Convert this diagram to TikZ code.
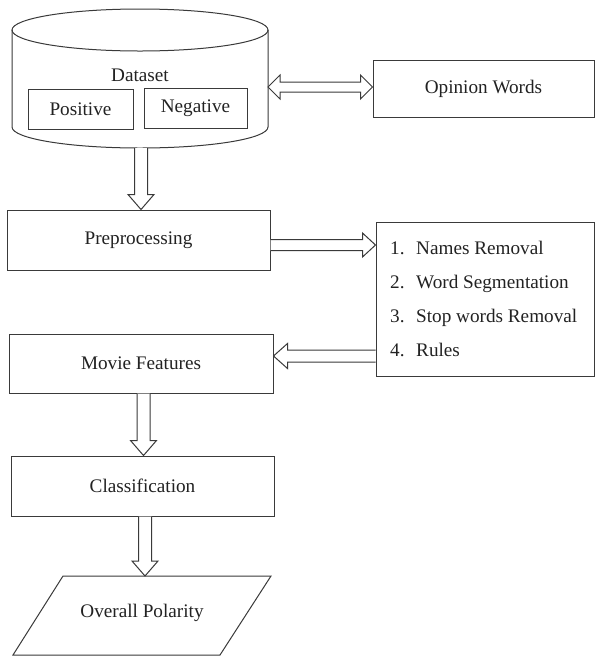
\documentclass[tikz,border=0pt]{standalone}
\usepackage{fontspec}
\setmainfont{Liberation Serif}
\newfontfamily\tnrfont{Liberation Serif}
\usetikzlibrary{calc}
\definecolor{lncol}{HTML}{3A3A3A}
\definecolor{txcol}{HTML}{222222}
\tikzset{
  ln/.style={draw=lncol, line width=1pt},
  box/.style={ln, rectangle, inner sep=0pt, text=txcol, align=center},
  blk/.style={ln, fill=white, line join=miter},
  lbl/.style={text=txcol, inner sep=0pt}
}
\newcommand\arrowDown[2]{%
  \draw[blk] ($(#1)+(-6.5,0)$) -- ($(#2)+(-6.5,-15)$) -- ($(#2)+(-13,-15)$) -- (#2)
    -- ($(#2)+(13,-15)$) -- ($(#2)+(6.5,-15)$) -- ($(#1)+(6.5,0)$);}
\newcommand\arrowRight[2]{%
  \draw[blk] ($(#1)+(0,-5.5)$) -- ($(#2)+(-13,-5.5)$) -- ($(#2)+(-13,-12)$) -- (#2)
    -- ($(#2)+(-13,12)$) -- ($(#2)+(-13,5.5)$) -- ($(#1)+(0,5.5)$);}
\newcommand\arrowLeft[2]{%
  \draw[blk] ($(#1)+(0,-6)$) -- ($(#2)+(14,-6)$) -- ($(#2)+(14,-12.5)$) -- (#2)
    -- ($(#2)+(14,12.5)$) -- ($(#2)+(14,6)$) -- ($(#1)+(0,6)$);}
\newcommand\arrowBoth[2]{%
  \draw[blk] ($(#1)+(12,-5)$) -- ($(#2)+(-12,-5)$) -- ($(#2)+(-12,-12)$) -- (#2)
    -- ($(#2)+(-12,12)$) -- ($(#2)+(-12,5)$) -- ($(#1)+(12,5)$) -- ($(#1)+(12,12)$)
    -- (#1) -- ($(#1)+(12,-12)$) -- cycle;}
\begin{document}
\begin{tikzpicture}[x=1pt, y=-1pt, font=\tnrfont\fontsize{19.2}{23}\selectfont]
\useasboundingbox (0,0) rectangle (595,657);
\fill[white] (0,0) rectangle (595,657);

% Dataset cylinder
\draw[ln, fill=white] (12,30) -- (12,127) arc[start angle=180, end angle=0, x radius=128, y radius=21] -- (268,30);
\draw[ln] (140,30) ellipse [x radius=128, y radius=21];
\node[lbl, anchor=base] (dsl) at (140,81) {Dataset};
\node[box, minimum width=105pt, minimum height=40pt] (pos) at (80.5,109) {Positive};
\node[box, minimum width=103pt, minimum height=40pt] (neg) at (195.5,108) {Negative};
\coordinate (dsS) at (141,148);
\coordinate (dsE) at (268,87);

% Opinion words
\node[box, minimum width=221pt, minimum height=57pt] (op) at (483.5,88.5) {Opinion Words};

% Preprocessing
\node[box, minimum width=263pt, minimum height=60pt] (pre) at (138.5,240) {Preprocessing};

% List box
\node[box, minimum width=218pt, minimum height=154pt] (lst) at (485,299) {};
\node[lbl, anchor=base west] (n1) at (390,254) {1.};
\node[lbl, anchor=base west] (t1) at (416,254) {Names Removal};
\node[lbl, anchor=base west] (n2) at (390,288) {2.};
\node[lbl, anchor=base west] (t2) at (416,288) {Word Segmentation};
\node[lbl, anchor=base west] (n3) at (390,322) {3.};
\node[lbl, anchor=base west] (t3) at (416,322) {Stop words Removal};
\node[lbl, anchor=base west] (n4) at (390,356) {4.};
\node[lbl, anchor=base west] (t4) at (416,356) {Rules};

% Movie features
\node[box, minimum width=264pt, minimum height=59pt] (mov) at (141,363.5) {Movie Features};

% Classification
\node[box, minimum width=263pt, minimum height=60pt] (cls) at (142.5,486) {Classification};

% Overall polarity (parallelogram)
\draw[ln] (63,576) -- (271,576) -- (220,655) -- (13,655) -- cycle;
\node[lbl] (pol) at (142,613) {Overall Polarity};
\coordinate (poltop) at (167,576);

% Connectors
\coordinate (a1e) at (pre.north -| dsS);
\arrowDown{dsS}{a1e}

\coordinate (a2e) at (op.west |- dsE);
\arrowBoth{dsE}{a2e}

\coordinate (a3s) at ($(pre.east)+(0,5)$);
\coordinate (a3e) at (a3s -| lst.west);
\arrowRight{a3s}{a3e}

\coordinate (a4e) at ($(mov.east)+(0,-7.5)$);
\coordinate (a4s) at (a4e -| lst.west);
\arrowLeft{a4s}{a4e}

\coordinate (a5s) at ($(mov.south)+(2.5,0)$);
\coordinate (a5e) at (a5s |- cls.north);
\arrowDown{a5s}{a5e}

\coordinate (a6s) at ($(cls.south)+(2.5,0)$);
\coordinate (a6e) at (a6s |- poltop);
\arrowDown{a6s}{a6e}
\end{tikzpicture}
\end{document}
